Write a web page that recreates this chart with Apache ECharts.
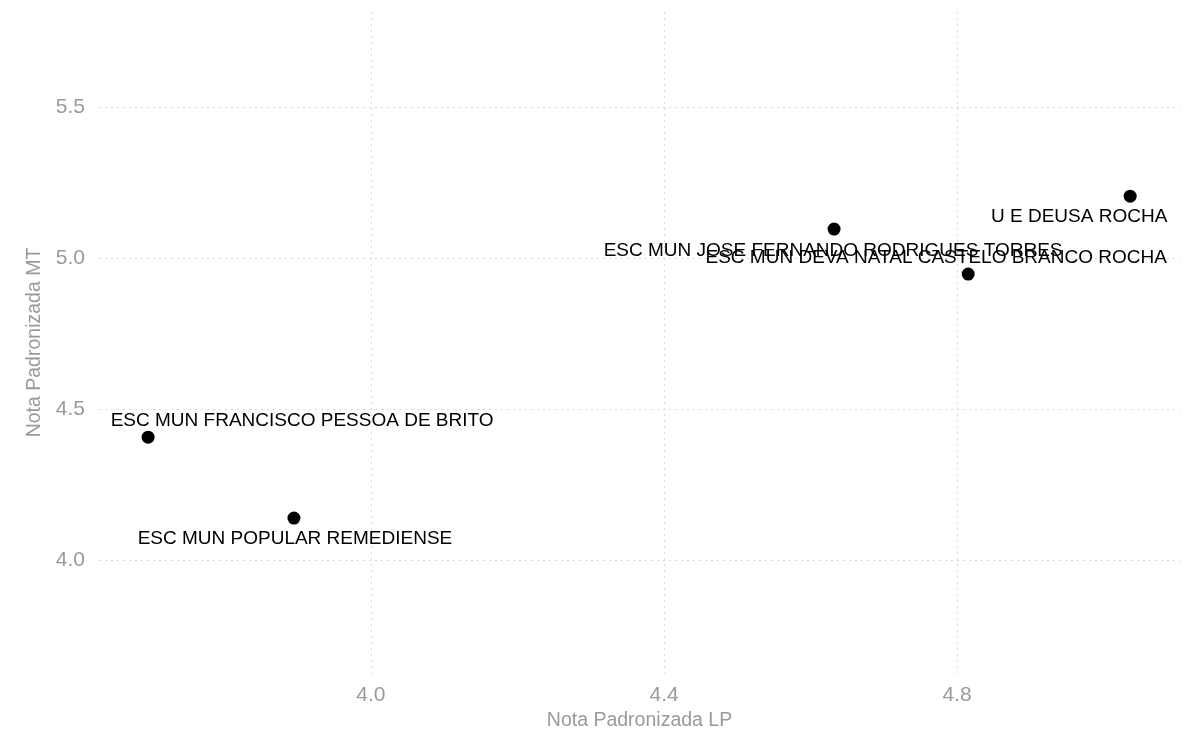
<!DOCTYPE html>
<html>
<head>
<meta charset="utf-8">
<script src="https://cdn.jsdelivr.net/npm/echarts@6/dist/echarts.min.js"></script>
<style>
html,body{margin:0;padding:0;background:#fff;}
#chart{width:1192px;height:732px;}
</style>
</head>
<body>
<div id="chart"></div>
<script>
const schools = [
  "ESC MUN FRANCISCO PESSOA DE BRITO",
  "ESC MUN POPULAR REMEDIENSE",
  "ESC MUN JOSE FERNANDO RODRIGUES TORRES",
  "ESC MUN DEVA NATAL CASTELO BRANCO ROCHA",
  "U E DEUSA ROCHA"
];
const notaLP = [3.696, 3.895, 4.632, 4.815, 5.036];
const notaMT = [4.407, 4.139, 5.096, 4.947, 5.205];
const xTicks = [4.0, 4.4, 4.8];
const yTicks = [4.0, 4.5, 5.0, 5.5];
// label offsets in pixels from the point centre (style only)
const labelOffsets = [[154, -16], [1, 21], [-1, 22], [-32, -16], [-51, 21]];

const chart = echarts.init(document.getElementById('chart'));
const gridColor = '#d9d9d9';
const tickColor = '#9a9a9a';
const font = 'Liberation Sans, Arial, Helvetica, sans-serif';
const symSize = 13;

chart.setOption({
  animation: false,
  grid: {left: 99, right: 12, top: 12, bottom: 59, containLabel: false, outerBoundsMode: 'none'},
  xAxis: {
    type: 'value',
    min: 3.629, max: 5.104,
    name: 'Nota Padronizada LP',
    nameLocation: 'middle',
    nameGap: 38,
    nameTextStyle: {color: tickColor, fontSize: 19.5, fontFamily: font},
    axisLine: {show: false},
    axisTick: {show: false, customValues: xTicks},
    axisLabel: {customValues: xTicks, color: tickColor, fontSize: 21, fontFamily: font, margin: 12,
      formatter: v => v.toFixed(1)},
    splitLine: {show: true, lineStyle: {color: gridColor, type: [2, 4], width: 1}}
  },
  yAxis: {
    type: 'value',
    min: 3.626, max: 5.815,
    name: 'Nota Padronizada MT',
    nameLocation: 'middle',
    nameGap: 47,
    nameTextStyle: {color: tickColor, fontSize: 19.5, fontFamily: font},
    axisLine: {show: false},
    axisTick: {show: false, customValues: yTicks},
    axisLabel: {customValues: yTicks, color: tickColor, fontSize: 21, fontFamily: font, margin: 14,
      formatter: v => v.toFixed(1)},
    splitLine: {show: true, lineStyle: {color: gridColor, type: [2, 4], width: 1}}
  },
  series: [{
    type: 'scatter',
    symbolSize: symSize,
    itemStyle: {color: '#000', opacity: 1},
    data: schools.map((s, i) => ({
      value: [notaLP[i], notaMT[i]],
      name: s,
      label: {position: [labelOffsets[i][0] + symSize / 2, labelOffsets[i][1] + symSize / 2]}
    })),
    label: {
      show: true,
      align: 'center',
      verticalAlign: 'middle',
      formatter: p => p.name,
      color: '#000',
      fontSize: 19,
      fontFamily: font
    },
    labelLayout: {hideOverlap: false}
  }]
});
</script>
</body>
</html>
